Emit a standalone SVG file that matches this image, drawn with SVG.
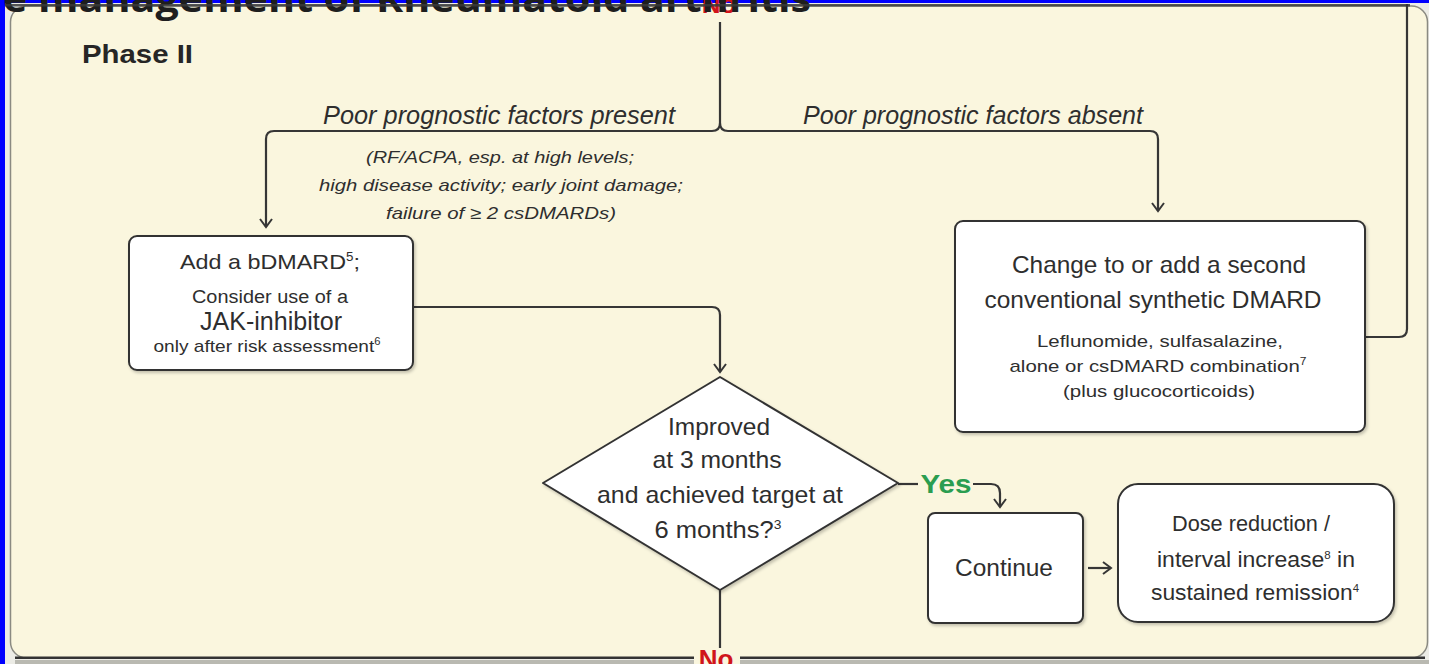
<svg xmlns="http://www.w3.org/2000/svg" width="1429" height="664" viewBox="0 0 1429 664">
<defs>
<style>
.t{font-family:"Liberation Sans",Arial,Helvetica,sans-serif;fill:#2e2e2e;text-anchor:middle}
.i{font-style:italic}
.box{fill:#ffffff;stroke:#333333;stroke-width:2}
.c{fill:none;stroke:#363636;stroke-width:2.2}
.red{font-family:"Liberation Sans",Arial,sans-serif;font-weight:700;fill:#d0141a;text-anchor:middle}
</style>
<marker id="ah" viewBox="-10 -8 12 16" markerWidth="12" markerHeight="16" markerUnits="userSpaceOnUse" orient="auto" refX="0" refY="0">
<path d="M-8,-6 L0,0 L-8,6" fill="none" stroke="#363636" stroke-width="2"/>
</marker>
<filter id="sh" x="-5%" y="-5%" width="115%" height="120%">
<feDropShadow dx="1.5" dy="2" stdDeviation="1.5" flood-color="#000" flood-opacity="0.22"/>
</filter>
</defs>

<rect x="0" y="0" width="1429" height="664" fill="#0000ff"/>
<rect x="5" y="3" width="1424" height="661" fill="#ecece6"/>

<g id="panel">
<rect x="10.5" y="6" width="1417" height="652" rx="16" fill="#faf6de" stroke="#8a8a82" stroke-width="1.5"/>
<rect x="15" y="656.5" width="1410" height="2.5" fill="#333"/>
<rect x="15" y="660" width="1414" height="4" fill="#b9b9b1"/>
</g>

<text class="red" x="719" y="13" font-size="26">No</text>
<text x="3" y="12" font-family="'Open Sans','Noto Sans',sans-serif" font-weight="700" font-size="38" fill="#1e1e1e" textLength="808" lengthAdjust="spacingAndGlyphs">e management of Rheumatoid arthritis</text>
<rect x="5" y="4" width="1405" height="2.5" fill="#3a3a3a" opacity="0.85"/>

<text x="82" y="63" font-family="'Liberation Sans',Arial,sans-serif" font-weight="700" font-size="25" fill="#262626" textLength="111" lengthAdjust="spacingAndGlyphs">Phase II</text>

<g id="connectors">
<path class="c" d="M720,22 V123 Q720,131 712,131 H274 Q266,131 266,139 V227" marker-end="url(#ah)"/>
<path class="c" d="M720,123 Q720,131 728,131 H1150 Q1158,131 1158,139 V211" marker-end="url(#ah)"/>
<path class="c" d="M413,307 H712 Q720,307 720,315 V372" marker-end="url(#ah)"/>
<path class="c" d="M898,484 H918"/>
<path class="c" d="M973,484 H991 Q1000,484 1000,493 V507" marker-end="url(#ah)"/>
<path class="c" d="M1088,568 H1111" marker-end="url(#ah)"/>
<path class="c" d="M1366,337 H1399 Q1407,337 1407,329 V4"/>
<path class="c" d="M720,590 V648"/>
</g>

<g id="labels">
<text class="t i" x="499" y="124" font-size="25" textLength="352" lengthAdjust="spacingAndGlyphs">Poor prognostic factors present</text>
<text class="t i" x="973" y="124" font-size="25" textLength="340" lengthAdjust="spacingAndGlyphs">Poor prognostic factors absent</text>
<text class="t i" x="500" y="163" font-size="17" textLength="268" lengthAdjust="spacingAndGlyphs">(RF/ACPA, esp. at high levels;</text>
<text class="t i" x="501" y="191" font-size="17" textLength="364" lengthAdjust="spacingAndGlyphs">high disease activity; early joint damage;</text>
<text class="t i" x="501" y="219" font-size="17" textLength="230" lengthAdjust="spacingAndGlyphs">failure of ≥ 2 csDMARDs)</text>
<text x="946" y="493" font-family="'Liberation Sans',Arial,sans-serif" font-weight="700" font-size="26" fill="#2a9d50" text-anchor="middle" textLength="51" lengthAdjust="spacingAndGlyphs">Yes</text>
<rect x="694" y="650" width="46" height="14" fill="#faf6de"/>
<text class="red" x="716" y="668" font-size="26">No</text>
</g>

<g id="bdmard">
<rect class="box" x="129" y="236" width="284" height="134" rx="8" filter="url(#sh)"/>
<text class="t" x="270" y="269" font-size="21" textLength="180" lengthAdjust="spacingAndGlyphs">Add a bDMARD<tspan font-size="12" dy="-8">5</tspan><tspan dy="8">;</tspan></text>
<text class="t" x="270" y="303" font-size="18" textLength="156" lengthAdjust="spacingAndGlyphs">Consider use of a</text>
<text class="t" x="271" y="330" font-size="25" textLength="142" lengthAdjust="spacingAndGlyphs">JAK-inhibitor</text>
<text class="t" x="267" y="352" font-size="17" textLength="227" lengthAdjust="spacingAndGlyphs">only after risk assessment<tspan font-size="10" dy="-7">6</tspan></text>
</g>

<g id="csdmard">
<rect class="box" x="955" y="221" width="410" height="211" rx="8" filter="url(#sh)"/>
<text class="t" x="1159" y="273" font-size="24" textLength="294" lengthAdjust="spacingAndGlyphs">Change to or add a second</text>
<text class="t" x="1153" y="308" font-size="24" textLength="337" lengthAdjust="spacingAndGlyphs">conventional synthetic DMARD</text>
<text class="t" x="1160" y="347" font-size="17" textLength="246" lengthAdjust="spacingAndGlyphs">Leflunomide, sulfasalazine,</text>
<text class="t" x="1158" y="372" font-size="17" textLength="297" lengthAdjust="spacingAndGlyphs">alone or csDMARD combination<tspan font-size="10" dy="-7">7</tspan></text>
<text class="t" x="1159" y="397" font-size="17" textLength="192" lengthAdjust="spacingAndGlyphs">(plus glucocorticoids)</text>
</g>

<g id="decision">
<polygon points="720,377 898,483 720,590 543,483" fill="#ffffff" stroke="#333" stroke-width="2" stroke-linejoin="round" filter="url(#sh)"/>
<text class="t" x="719" y="435" font-size="24" textLength="102" lengthAdjust="spacingAndGlyphs">Improved</text>
<text class="t" x="717" y="468" font-size="24" textLength="129" lengthAdjust="spacingAndGlyphs">at 3 months</text>
<text class="t" x="720" y="503" font-size="24" textLength="246" lengthAdjust="spacingAndGlyphs">and achieved target at</text>
<text class="t" x="718" y="538" font-size="24" textLength="127" lengthAdjust="spacingAndGlyphs">6 months?<tspan font-size="13" dy="-9">3</tspan></text>
</g>

<g id="continue">
<rect class="box" x="928" y="513" width="155" height="110" rx="7" filter="url(#sh)"/>
<text class="t" x="1004" y="576" font-size="23" textLength="98" lengthAdjust="spacingAndGlyphs">Continue</text>
</g>

<g id="dose">
<rect class="box" x="1118" y="484" width="276" height="138" rx="20" filter="url(#sh)"/>
<text class="t" x="1251" y="531" font-size="22" textLength="158" lengthAdjust="spacingAndGlyphs">Dose reduction /</text>
<text class="t" x="1256" y="567" font-size="22" textLength="198" lengthAdjust="spacingAndGlyphs">interval increase<tspan font-size="11" dy="-8">8</tspan><tspan dy="8"> in</tspan></text>
<text class="t" x="1255" y="600" font-size="22" textLength="208" lengthAdjust="spacingAndGlyphs">sustained remission<tspan font-size="11" dy="-8">4</tspan></text>
</g>
</svg>
